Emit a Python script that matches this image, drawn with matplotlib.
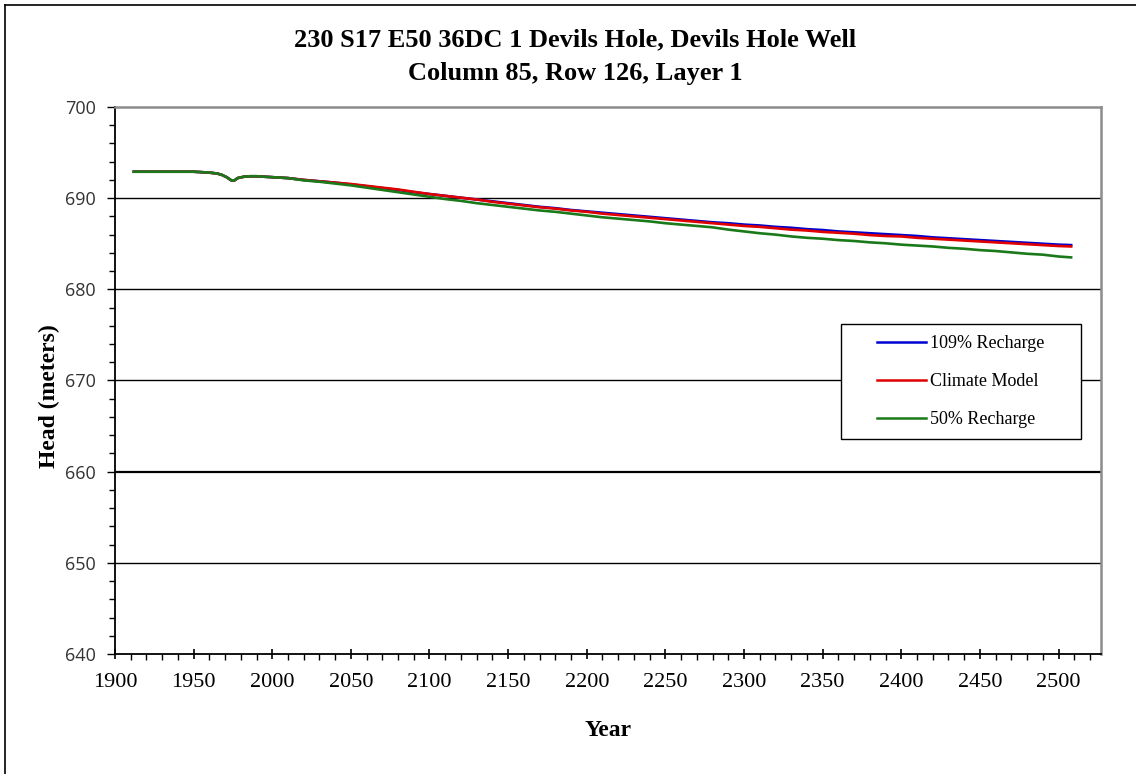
import matplotlib
matplotlib.use("Agg")
import matplotlib.pyplot as plt
from matplotlib.lines import Line2D
from matplotlib.patches import Rectangle
from matplotlib.ticker import MultipleLocator

# ---- data ----
years_early = [1912, 1920, 1930, 1940, 1950, 1955, 1960, 1965, 1968, 1971, 1974, 1976,
               1978, 1982, 1986, 1990, 1995, 2000, 2005, 2010]
head_early = [692.9, 692.9, 692.9, 692.9, 692.9, 692.85, 692.8, 692.7, 692.55, 692.3, 691.95, 691.95,
              692.2, 692.35, 692.4, 692.4, 692.35, 692.3, 692.25, 692.2]

years_late = [2020, 2030, 2040, 2050, 2060, 2070, 2080, 2090, 2100, 2110, 2120, 2130, 2140, 2150,
              2160, 2170, 2180, 2190, 2200, 2210, 2220, 2230, 2240, 2250, 2260, 2270, 2280, 2290,
              2300, 2310, 2320, 2330, 2340, 2350, 2360, 2370, 2380, 2390, 2400, 2410, 2420, 2430,
              2440, 2450, 2460, 2470, 2480, 2490, 2500, 2508]

head_109 = [692.0, 691.85, 691.7, 691.5, 691.3, 691.1, 690.9, 690.65, 690.45, 690.25, 690.05, 689.85,
            689.65, 689.45, 689.25, 689.05, 688.9, 688.7, 688.55, 688.4, 688.25, 688.1, 687.95, 687.8,
            687.65, 687.5, 687.35, 687.25, 687.1, 687.0, 686.85, 686.75, 686.6, 686.5, 686.35, 686.25,
            686.15, 686.05, 685.95, 685.85, 685.7, 685.6, 685.5, 685.4, 685.3, 685.2, 685.1, 685.0,
            684.9, 684.85]

head_climate = [692.0, 691.85, 691.7, 691.55, 691.35, 691.15, 690.95, 690.7, 690.45, 690.25, 690.05,
                689.85, 689.6, 689.4, 689.2, 689.0, 688.85, 688.65, 688.5, 688.3, 688.15, 688.0,
                687.85, 687.7, 687.55, 687.4, 687.25, 687.1, 686.95, 686.85, 686.7, 686.55, 686.45,
                686.3, 686.2, 686.1, 685.95, 685.85, 685.8, 685.65, 685.55, 685.45, 685.35, 685.25,
                685.15, 685.05, 684.95, 684.85, 684.75, 684.7]

head_50 = [691.95, 691.8, 691.6, 691.4, 691.15, 690.9, 690.65, 690.4, 690.15, 689.9, 689.7, 689.45,
           689.25, 689.05, 688.85, 688.65, 688.5, 688.3, 688.1, 687.9, 687.75, 687.6, 687.45, 687.25,
           687.1, 686.95, 686.8, 686.55, 686.35, 686.15, 686.0, 685.8, 685.65, 685.55, 685.4, 685.3,
           685.15, 685.05, 684.9, 684.8, 684.7, 684.55, 684.45, 684.3, 684.2, 684.05, 683.9, 683.8,
           683.6, 683.5]

series_labels = ["109% Recharge", "Climate Model", "50% Recharge"]
series_colors = ["#0000d0", "#e00000", "#1a7a1a"]
title_text = "230 S17 E50 36DC 1 Devils Hole, Devils Hole Well\nColumn 85, Row 126, Layer 1"

# ---- figure ----
fig = plt.figure(figsize=(11.36, 7.74), dpi=100)
ax = fig.add_axes([0.1012, 0.155, 0.868, 0.7068])

serif = ["Liberation Serif", "DejaVu Serif"]
sans = ["Open Sans", "DejaVu Sans"]

x_all = years_early + years_late
for vals, col, lab in zip([head_109, head_climate, head_50], series_colors, series_labels):
    ax.plot(x_all, head_early + vals, color=col, lw=1.9, label=lab, zorder=3)

ax.set_xlim(1900, 2527)
ax.set_ylim(640, 700)
ax.xaxis.set_major_locator(MultipleLocator(50))
ax.xaxis.set_minor_locator(MultipleLocator(10))
ax.yaxis.set_major_locator(MultipleLocator(10))
ax.yaxis.set_minor_locator(MultipleLocator(2))
for y in range(650, 700, 10):
    ax.axhline(y, color="black", lw=1.6 if y == 660 else 1.0, zorder=1)

ax.tick_params(axis="x", which="major", direction="inout", length=7, width=1.2, labelsize=16, pad=10)
ax.tick_params(axis="x", which="minor", direction="out", length=4, width=1.0)
ax.tick_params(axis="y", which="major", direction="out", length=6, width=1.0, labelsize=13, pad=8,
               labelcolor="#333333")
ax.tick_params(axis="y", which="minor", direction="out", length=4, width=1.0)
for lbl in ax.get_xticklabels():
    lbl.set_fontfamily(serif)
for lbl in ax.get_yticklabels():
    lbl.set_fontfamily(sans)

for s in ["left", "bottom"]:
    ax.spines[s].set_color("black")
    ax.spines[s].set_linewidth(1.3)
for s in ["top", "right"]:
    ax.spines[s].set_color("#8c8c8c")
    ax.spines[s].set_linewidth(1.8)

ax.set_xlabel("Year", fontsize=17, fontweight="bold", family=serif, labelpad=20)
ax.set_ylabel("Head (meters)", fontsize=17, fontweight="bold", family=serif, labelpad=3, y=0.472)

fig.text(0.506, 0.964, title_text, ha="center", va="top", fontsize=19, fontweight="bold",
         family=serif, linespacing=1.6)

# legend: frame drawn as a box, entries centred within it
box_x0, box_y0, box_w, box_h = 0.736, 0.393, 0.244, 0.210
ax.add_patch(Rectangle((box_x0, box_y0), box_w, box_h, transform=ax.transAxes,
                       facecolor="white", edgecolor="black", lw=1.0, zorder=5))
leg = ax.legend(loc="center", bbox_to_anchor=(box_x0 + box_w / 2, box_y0 + box_h / 2),
                frameon=False, prop={"family": serif, "size": 13}, handlelength=2.7,
                labelspacing=1.15, borderpad=0, handletextpad=0.25, borderaxespad=0)
leg.set_zorder(6)
for h in leg.get_lines():
    h.set_linewidth(1.8)

# figure border (left and top visible)
fig.add_artist(Line2D([5/1136, 5/1136], [0, 1 - 5/774], transform=fig.transFigure, color="black", lw=1.2))
fig.add_artist(Line2D([5/1136, 1], [1 - 5/774, 1 - 5/774], transform=fig.transFigure, color="black", lw=1.2))

fig.savefig("out.png", dpi=100)
